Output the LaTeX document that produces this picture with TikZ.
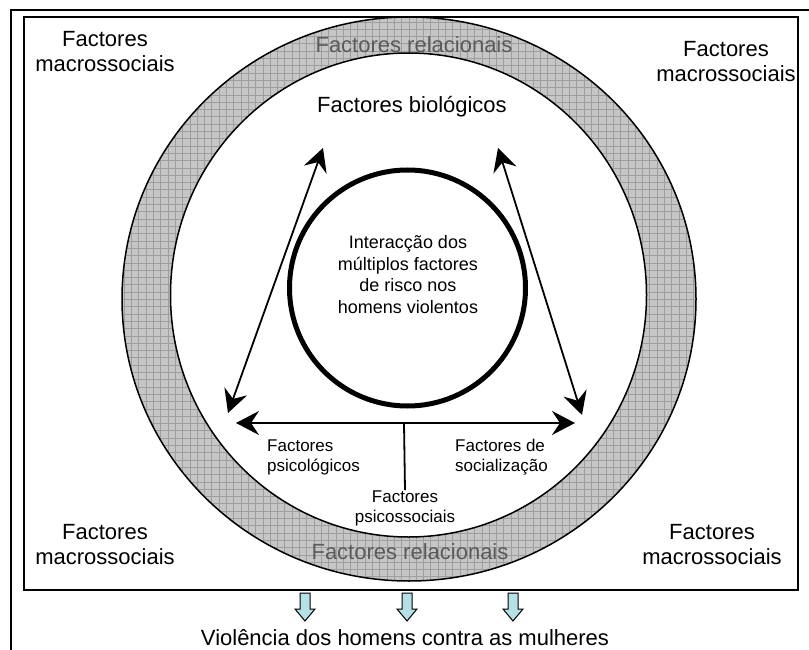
\documentclass[tikz,border=0pt]{standalone}
\usepackage{fontspec}
\setmainfont{Liberation Sans}
\usetikzlibrary{arrows.meta}
\definecolor{ringgray}{HTML}{C6C6C6}
\definecolor{gridgray}{HTML}{9E9E9E}
\definecolor{ringtext}{HTML}{5A5A5A}
\definecolor{downfill}{HTML}{B6DFE6}
\begin{document}
\begin{tikzpicture}[x=1pt,y=-1pt,
  big/.style={font=\fontsize{22}{25}\selectfont, align=center, inner sep=0pt},
  mid/.style={font=\fontsize{18}{21.7}\selectfont, align=center, inner sep=0pt},
  small/.style={font=\fontsize{17}{20}\selectfont, inner sep=0pt},
  link/.style={line width=1.8pt, {Stealth[length=23pt,width=24pt,inset=8pt]}-{Stealth[length=23pt,width=24pt,inset=8pt]}},
  downarrow/.style={fill=downfill, draw=black, line width=1pt}]
\useasboundingbox (0,0) rectangle (809,650);
\fill[white] (0,0) rectangle (809,650);
% outer frame
\draw[line width=1.3pt] (11,650) -- (11,10) -- (809,10);
% inner rectangle
\draw[line width=2pt] (24,17) rectangle (798,590);
% ring
\fill[ringgray] (409,299) ellipse [x radius=287, y radius=282];
\begin{scope}
  \clip (409,299) ellipse [x radius=287, y radius=282];
  \draw[gridgray, line width=0.6pt] (118,14) grid[step=7.3pt] (702,586);
\end{scope}
\fill[white] (408.5,295) ellipse [x radius=238, y radius=242];
\draw[line width=1.5pt] (409,299) ellipse [x radius=287, y radius=282];
\draw[line width=1.5pt] (408.5,295) ellipse [x radius=238, y radius=242];
% central circle
\node[circle, draw, line width=5pt, minimum size=236pt, inner sep=0pt] (core) at (407.5,288) {};
\node[mid] (coretext) at (408,274.5) {Interacção dos\\múltiplos factores\\de risco nos\\homens violentos};
% labels
\node[big] (tl) at (105,52) {Factores\\macrossociais};
\node[big] (tr) at (726,62) {Factores\\macrossociais};
\node[big] (bl) at (105,545) {Factores\\macrossociais};
\node[big] (br) at (712,545) {Factores\\macrossociais};
\node[big, text=ringtext] (reltop) at (414,45) {Factores relacionais};
\node[big, text=ringtext] (relbot) at (410,552) {Factores relacionais};
\node[big] (bio) at (412,107) {Factores biológicos};
\node[small, align=left, anchor=west] (psi) at (267,457) {Factores\\psicológicos};
\node[small, align=left, anchor=west] (soc) at (455,457) {Factores de\\socialização};
\node[small, align=center] (psis) at (405,508) {Factores\\psicossociais};
\node[big] (viol) at (405,638) {Violência dos homens contra as mulheres};
% arrow endpoints
\coordinate (bioL) at (323,148);
\coordinate (bioR) at (498,148);
\coordinate (psiT) at (228,413);
\coordinate (socT) at (582,415);
\coordinate (psiH) at (236,423);
\coordinate (socH) at (575,423);
\coordinate (mid) at (404,423);
\draw[link] (psiT) -- (bioL);
\draw[link] (socT) -- (bioR);
\draw[link] (psiH) -- (socH);
\draw[line width=1.8pt] (mid) -- (psis.north);
% down arrows
\foreach \xx [count=\i] in {305,407,513} {
  \coordinate (d\i) at (\xx,593);
  \draw[downarrow] (\xx-5,593) -- (\xx+5,593) -- (\xx+5,609) -- (\xx+10,609) -- (\xx,621) -- (\xx-10,609) -- (\xx-5,609) -- cycle;
}
\end{tikzpicture}
\end{document}
